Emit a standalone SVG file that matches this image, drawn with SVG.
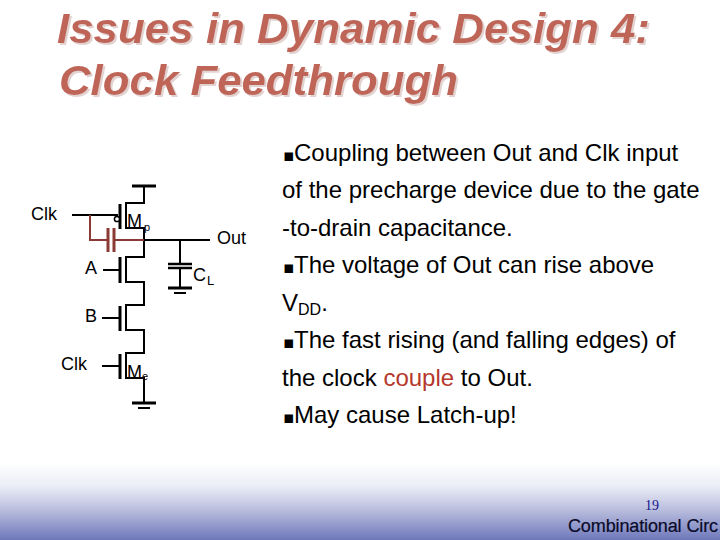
<svg xmlns="http://www.w3.org/2000/svg" width="720" height="540" viewBox="0 0 720 540">
<defs>
<linearGradient id="bg" x1="0" y1="0" x2="0" y2="1"><stop offset="0" stop-color="#ffffff"/><stop offset="0.3" stop-color="#eceef7"/><stop offset="0.6" stop-color="#bcc0de"/><stop offset="1" stop-color="#6e78bb"/></linearGradient>
<filter id="shadow" x="-5%" y="-20%" width="110%" height="140%"><feDropShadow dx="2" dy="2" stdDeviation="0.4" flood-color="#e3d3d0"/></filter>
</defs>
<style>
text{font-family:"Liberation Sans",Arial,sans-serif;fill:#000}
.w{fill:none;stroke:#000;stroke-width:2}
.g{fill:none;stroke:#000;stroke-width:3}
.r{fill:none;stroke:#8c3a34;stroke-width:2}
.t{font-size:43px;font-weight:bold;font-style:italic;fill:#bf6558}
.b{font-size:24px}
.q{font-size:17px;font-family:"DejaVu Sans",sans-serif}
.l{font-size:18px}
.sub{font-size:13px}
</style>
<rect width="720" height="540" fill="#fff"/>
<rect id="footer-band" x="0" y="462" width="720" height="78" fill="url(#bg)"/>
<g id="title" filter="url(#shadow)">
<text class="t" x="57" y="43" textLength="593" lengthAdjust="spacingAndGlyphs">Issues in Dynamic Design 4:</text>
<text class="t" x="59" y="95" textLength="399" lengthAdjust="spacingAndGlyphs">Clock Feedthrough</text>
</g>
<g id="connectors">
<path class="w" d="M144 186V203H126V228H144V257H126V282H144V305H126V330H144V353H126V378H144V403"/>
<path class="w" d="M144 240H210M180 240V264M180 268V288"/>
<path class="w" d="M72 215H118M103 270H120M102 318H120M102 366H120"/>
<path class="r" d="M90 215V240H107M114 240H144"/>
</g>
<g id="vdd"><path class="g" d="M132 186H156"/></g>
<g id="precharge-pmos"><path class="g" d="M120 204V229"/><circle cx="117" cy="219" r="2.6" fill="#fff" stroke="#000" stroke-width="1.5"/><text class="l" x="127" y="227">M</text><text class="sub" x="144" y="231" style="font-size:11px">p</text></g>
<g id="coupling-cap"><path class="r" style="stroke-width:3" d="M108 228V252M114 228V252"/></g>
<g id="nmos-a"><path class="g" d="M120 257V283"/></g>
<g id="nmos-b"><path class="g" d="M120 306V331"/></g>
<g id="eval-nmos"><path class="g" d="M120 354V379"/><text class="l" x="127" y="378">M</text><text class="sub" x="142" y="380" style="font-size:11px">e</text></g>
<g id="load-cap"><path class="w" style="stroke-width:2.5" d="M168 264H192M168 268H192"/><path class="g" d="M168 288H192"/><path class="w" d="M174 293H186"/></g>
<g id="gnd"><path class="g" d="M132 403H156"/><path class="w" d="M138 408H150"/></g>
<g id="labels">
<text class="l" x="31" y="220">Clk</text>
<text class="l" x="85" y="274">A</text>
<text class="l" x="85" y="322">B</text>
<text class="l" x="61" y="370">Clk</text>
<text class="l" x="217" y="244">Out</text>
<text class="l" x="193" y="281">C</text><text class="sub" x="207" y="285">L</text>
</g>
<g id="body">
<text class="b" x="283" y="161"><tspan class="q">▪</tspan><tspan x="294">Coupling between Out and Clk input</tspan></text>
<text class="b" x="282" y="198">of the precharge device due to the gate</text>
<text class="b" x="282" y="236">-to-drain capacitance.</text>
<text class="b" x="283" y="273"><tspan class="q">▪</tspan><tspan x="294">The voltage of Out can rise above</tspan></text>
<text class="b" x="282" y="311">V<tspan font-size="16" dy="4">DD</tspan><tspan dy="-4">.</tspan></text>
<text class="b" x="283" y="348"><tspan class="q">▪</tspan><tspan x="294">The fast rising (and falling edges) of</tspan></text>
<text class="b" x="282" y="386">the clock <tspan style="fill:#b5382c">couple</tspan> to Out.</text>
<text class="b" x="283" y="423"><tspan class="q">▪</tspan><tspan x="294">May cause Latch-up!</tspan></text>
</g>
<g id="footer">
<text x="645" y="510" style="font-family:'Liberation Serif',serif;font-size:14px;fill:#14148c">19</text>
<text x="568" y="532" textLength="150" style="font-size:18px;fill:#0a0a28;stroke:#0a0a28;stroke-width:.2">Combinational Circ</text>
</g>
</svg>
